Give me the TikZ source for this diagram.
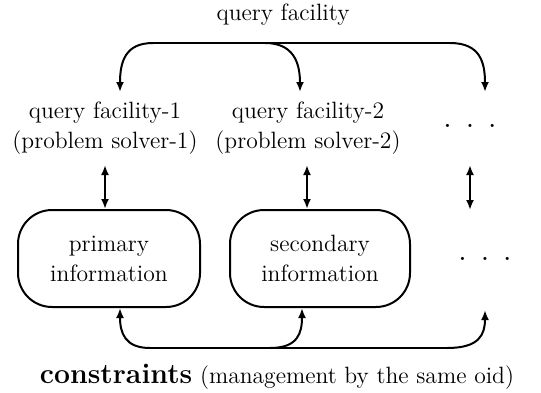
\documentclass[tikz,border=0pt]{standalone}
\usetikzlibrary{arrows.meta}

\begin{document}
\begin{tikzpicture}[x=0.5pt, y=-0.5pt,
  font=\fontsize{11.8}{15}\selectfont,
  >={Latex[length=5pt,width=4pt]},
  wire/.style={line width=1pt},
  info/.style={draw, line width=1pt, rounded corners=17pt,
    minimum width=91pt, minimum height=48.5pt, align=center, inner sep=0pt},
  lbl/.style={align=center, inner sep=0pt}]

\useasboundingbox (0,0) rectangle (541,392);

% Define nodes
\path (283,15) node[lbl] (qfac) {query facility}
(105,128) node[lbl] (qf1) {query facility-1\\(problem solver-1)}
(308,128) node[lbl] (qf2) {query facility-2\\(problem solver-2)}
(470,127) node[lbl, anchor=base, font=\bfseries] (more1) {.\hspace{8pt}.\hspace{8pt}.}
(109,258.5) node[info, minimum width=91pt] (prim) {primary\\information}
(320,258.5) node[info, minimum width=90pt] (sec) {secondary\\information}
(485,260) node[lbl, anchor=base, font=\bfseries] (more2) {.\hspace{8pt}.\hspace{8pt}.}
(277,377) node[lbl] (cons)
{\textbf{\fontsize{14.2}{17}\selectfont constraints} (management by the same oid)}
;

% bus ends and tips
\path (150,43) coordinate (topL)
(265,43) coordinate (topM)
(450,43) coordinate (topR)
(120,92) coordinate (tip1)
(300,92) coordinate (tip2)
(485,92) coordinate (tip3)
(105,165) coordinate (up1)
(307,165) coordinate (up2)
(470,165) coordinate (up3)
(470,210) coordinate (dn3)
(150,348) coordinate (botL)
(270,348) coordinate (botM)
(447,348) coordinate (botR)
(485,310) coordinate (end3)
;

% query facility
\draw[wire] (topL) -- (topR);
\draw[wire, ->] (topL) ++(3,0) .. controls +(-28,0) and +(0,-30) .. (tip1);
\draw[wire, ->] (topM) .. controls +(28,0) and +(0,-30) .. (tip2);
\draw[wire, ->] (topR) .. controls +(30,0) and +(0,-30) .. (tip3);

\draw[wire, <->] (up1) -- (prim.north -| up1);
\draw[wire, <->] (up2) -- (sec.north -| up2);
\draw[wire, <->] (up3) -- (dn3);

% constraints
\draw[wire] (botL) -- (botR);
\draw[wire, ->] (botL) .. controls +(-25,0) and +(0,25) .. (prim.south -| tip1);
\draw[wire, ->] (botM) .. controls +(28,0) and +(0,25) .. (sec.south -| 302,0);
\draw[wire, ->] (botR) .. controls +(32,0) and +(0,25) .. (end3);

\end{tikzpicture}
\end{document}
